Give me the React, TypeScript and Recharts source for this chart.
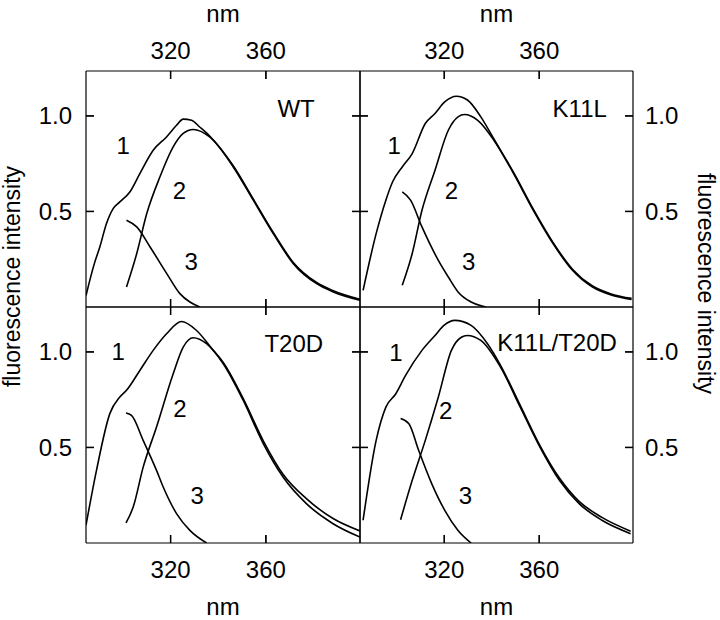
import React from 'react';
import { LineChart, Line, XAxis, YAxis, ReferenceDot, ReferenceLine } from 'recharts';

type Pt = { x: number; y: number };
const toPts = (a: number[][]): Pt[] => a.map(([x, y]) => ({ x, y }));

// axis ticks and labels
const xTicks = [320, 360];
const yTicks = [0.5, 1.0];
const xDomain: [number, number] = [284.5, 399.5];
const yDomain: [number, number] = [0, 1.235];
const xTitle = 'nm';
const yTitle = 'fluorescence intensity';
const panelNames = ['WT', 'K11L', 'T20D', 'K11L/T20D'];
const curveNames = ['1', '2', '3'];

// WT
const wt1 = [[284.5, 0.06], [288, 0.227], [290.3, 0.314], [293.1, 0.437], [295.9, 0.515], [298.7, 0.55], [302.9, 0.602], [307.1, 0.698], [312.7, 0.82], [318.3, 0.89], [322.5, 0.951], [325.3, 0.983], [328.8, 0.977], [332.2, 0.942], [336.4, 0.895], [346.3, 0.739], [354.7, 0.565], [363.1, 0.39], [371.5, 0.233], [381.3, 0.128], [388.3, 0.085], [399.5, 0.04]];
const wt2 = [[301.5, 0.105], [305.8, 0.28], [310, 0.489], [315.5, 0.68], [321.1, 0.838], [325.3, 0.908], [329.5, 0.929], [336.4, 0.89], [346.3, 0.733], [354.7, 0.559], [363.1, 0.384], [371.5, 0.227], [381.3, 0.122], [388.3, 0.079], [399.5, 0.035]];
const wt3 = [[301.5, 0.454], [305.8, 0.419], [311.4, 0.314], [318.4, 0.175], [323.9, 0.07], [328.1, 0.026], [332.3, 0]];

// K11L
const k1 = [[285.8, 0.087], [291.3, 0.384], [295.4, 0.559], [298.2, 0.654], [302.3, 0.733], [306.5, 0.803], [312, 0.96], [316.1, 1.013], [320.2, 1.073], [325.1, 1.103], [329.9, 1.082], [335.4, 0.995], [340.9, 0.879], [349.2, 0.704], [357.5, 0.512], [365.8, 0.338], [374, 0.198], [382.3, 0.111], [390.6, 0.067], [398.9, 0.045]];
const k2 = [[302.3, 0.114], [306.5, 0.28], [310.6, 0.506], [316.1, 0.716], [321.7, 0.925], [325.8, 0.995], [328.5, 1.007], [334.1, 0.977], [340.9, 0.873], [349.2, 0.698], [357.5, 0.506], [365.8, 0.332], [374, 0.192], [382.3, 0.105], [390.6, 0.061], [398.9, 0.039]];
const k3 = [[302.3, 0.602], [305.8, 0.559], [310.6, 0.419], [317.5, 0.244], [321.7, 0.157], [325.8, 0.079], [331.3, 0.026], [337.5, 0]];

// T20D
const t1 = [[284.5, 0.093], [288.9, 0.38], [294.5, 0.677], [298.7, 0.764], [301.5, 0.799], [307.1, 0.903], [312.7, 1.008], [318.3, 1.095], [324.6, 1.159], [330.9, 1.112], [337.9, 1.008], [342.1, 0.945], [350.5, 0.755], [358.9, 0.535], [367.2, 0.36], [377, 0.232], [388.2, 0.128], [399.5, 0.063]];
const t2 = [[301.3, 0.105], [304.3, 0.188], [308.5, 0.397], [314.1, 0.607], [321.1, 0.886], [325.3, 1.025], [329.5, 1.074], [335.1, 1.043], [342.1, 0.938], [350.5, 0.746], [358.9, 0.52], [367.2, 0.345], [377, 0.206], [388.2, 0.101], [399.5, 0.031]];
const t3 = [[301.3, 0.68], [303.6, 0.668], [308.5, 0.537], [314.1, 0.38], [316.9, 0.293], [322.5, 0.154], [328.1, 0.066], [335.1, 0]];

// K11L/T20D
const kt1 = [[285.8, 0.119], [291.3, 0.537], [295.4, 0.711], [299.6, 0.781], [303.7, 0.877], [310.6, 1.008], [316.1, 1.086], [320, 1.14], [324.4, 1.165], [331.3, 1.139], [338.2, 1.043], [343.7, 0.93], [352, 0.72], [360.3, 0.51], [368.5, 0.34], [376.8, 0.218], [386.4, 0.134], [398.5, 0.062]];
const kt2 = [[301.6, 0.122], [306.5, 0.328], [312, 0.537], [317.5, 0.764], [323, 1.008], [327.2, 1.077], [329.6, 1.086], [335.4, 1.06], [343.7, 0.92], [352, 0.711], [360.3, 0.502], [368.5, 0.328], [376.8, 0.206], [386.4, 0.119], [398.5, 0.049]];
const kt3 = [[301.6, 0.651], [305.1, 0.624], [309.2, 0.485], [314.7, 0.311], [320.2, 0.171], [325.8, 0.066], [331.3, 0]];

// annotation anchors (data units)
const wtMarks = [[300.1, 0.847], [323.7, 0.61], [328.6, 0.236]];
const kMarks = [[298.9, 0.847], [323, 0.611], [330.3, 0.236]];
const tMarks = [[298, 1.0], [323.9, 0.703], [331.2, 0.249]];
const ktMarks = [[299.6, 0.999], [320.6, 0.694], [328.9, 0.249]];
const nameAnchors = [[380.5, 1.038], [388.5, 1.039], [384, 1.043], [392.7, 1.051]];

const FONT = '"Liberation Sans", Arial, Helvetica, sans-serif';
const FS = 24;
const TICK = 8;
// inward tick length expressed in data units of each axis (8 px)
const TICK_NM = 3.36;
const TICK_Y = 0.042;

// (x, y) handed to the tick is the inner end of the tick mark (tickSize is negative)
function AxisTick(props: any) {
  const { x, y, payload, side, show } = props;
  if (!show) return <g />;
  const v = payload.value;
  const lab = side === 'left' || side === 'right' ? Number(v).toFixed(1) : String(v);
  const tp = { fontFamily: FONT, fontSize: FS, fill: '#000' };
  if (side === 'top') return <text x={x} y={y - TICK - 12} textAnchor="middle" {...tp}>{lab}</text>;
  if (side === 'bottom') return <text x={x} y={y + TICK + 35} textAnchor="middle" {...tp}>{lab}</text>;
  if (side === 'left') return <text x={x - TICK - 14} y={y + 8.5} textAnchor="end" {...tp}>{lab}</text>;
  return <text x={x + TICK + 12} y={y + 8.5} textAnchor="start" {...tp}>{lab}</text>;
}

const markShape = (text: string, anchor: string) => (p: any) => (
  <text x={p.cx} y={p.cy} textAnchor={anchor} dominantBaseline="central" fontFamily={FONT} fontSize={FS} fill="#000">{text}</text>
);

const TFS = 23;
const leftTitle = (p: any) => {
  const vb = p.viewBox || { x: 85, y: 71, height: 236 };
  const cx = vb.x - 65;
  const cy = vb.y + vb.height - 30.5;
  return (
    <text x={cx} y={cy} transform={`rotate(-90 ${cx} ${cy})`} textAnchor="middle" fontFamily={FONT} fontSize={TFS} fill="#000">{yTitle}</text>
  );
};
const rightTitle = (p: any) => {
  const vb = p.viewBox || { x: 633, y: 71, height: 236 };
  const cx = vb.x + 65;
  const cy = vb.y + vb.height - 23.5;
  return (
    <text x={cx} y={cy} transform={`rotate(90 ${cx} ${cy})`} textAnchor="middle" fontFamily={FONT} fontSize={TFS} fill="#000">{yTitle}</text>
  );
};

type PanelCfg = {
  curves: number[][][];
  marks: number[][];
  name: string;
  nameAt: number[];
  margin: { top: number; left: number; right: number; bottom: number };
  xSide: 'top' | 'bottom';
  ySide: 'left' | 'right';
};

// margins exclude the 1px that each axis occupies
const panels: PanelCfg[] = [
  { curves: [wt1, wt2, wt3], marks: wtMarks, name: panelNames[0], nameAt: nameAnchors[0], margin: { top: 70, left: 85, right: 359, bottom: 312 }, xSide: 'top', ySide: 'left' },
  { curves: [k1, k2, k3], marks: kMarks, name: panelNames[1], nameAt: nameAnchors[1], margin: { top: 70, left: 359, right: 86, bottom: 312 }, xSide: 'top', ySide: 'right' },
  { curves: [t1, t2, t3], marks: tMarks, name: panelNames[2], nameAt: nameAnchors[2], margin: { top: 306, left: 85, right: 359, bottom: 76 }, xSide: 'bottom', ySide: 'left' },
  { curves: [kt1, kt2, kt3], marks: ktMarks, name: panelNames[3], nameAt: nameAnchors[3], margin: { top: 306, left: 359, right: 86, bottom: 76 }, xSide: 'bottom', ySide: 'right' },
];

function Panel({ cfg, idx }: { cfg: PanelCfg; idx: number }) {
  const axisLine = { stroke: '#000', strokeWidth: 1.2 };
  const tickLine = { stroke: '#000', strokeWidth: 1.3 };
  const xLabel = cfg.xSide === 'top'
    ? { value: xTitle, position: 'top' as const, offset: 48, fontSize: FS, fontFamily: FONT, fill: '#000' }
    : { value: xTitle, position: 'bottom' as const, offset: 54, fontSize: FS, fontFamily: FONT, fill: '#000' };
  let yLabelLeft: any = undefined;
  let yLabelRight: any = undefined;
  if (idx === 0) yLabelLeft = { content: leftTitle };
  if (idx === 1) yLabelRight = { content: rightTitle };
  const [x0, x1] = xDomain;
  const [y0, y1] = yDomain;
  const tickSegs: { x: number; y: number }[][] = [];
  xTicks.forEach((t) => {
    tickSegs.push([{ x: t, y: y0 }, { x: t, y: y0 + TICK_Y }]);
    tickSegs.push([{ x: t, y: y1 }, { x: t, y: y1 - TICK_Y }]);
  });
  yTicks.forEach((t) => {
    tickSegs.push([{ x: x0, y: t }, { x: x0 + TICK_NM, y: t }]);
    tickSegs.push([{ x: x1, y: t }, { x: x1 - TICK_NM, y: t }]);
  });
  return (
    <div style={{ position: 'absolute', left: 0, top: 0 }}>
      <LineChart width={720} height={620} margin={cfg.margin}>
        <XAxis xAxisId="b" orientation="bottom" type="number" dataKey="x" domain={xDomain} ticks={xTicks} allowDataOverflow
          height={1} tickSize={-TICK} tickMargin={0} tickLine={tickLine} axisLine={axisLine}
          tick={<AxisTick side="bottom" show={cfg.xSide === 'bottom'} />}
          label={cfg.xSide === 'bottom' ? xLabel : undefined} />
        <XAxis xAxisId="t" orientation="top" type="number" dataKey="x" domain={xDomain} ticks={xTicks} allowDataOverflow
          height={1} tickSize={-TICK} tickMargin={0} tickLine={tickLine} axisLine={axisLine}
          tick={<AxisTick side="top" show={cfg.xSide === 'top'} />}
          label={cfg.xSide === 'top' ? xLabel : undefined} />
        <YAxis yAxisId="l" orientation="left" type="number" domain={yDomain} ticks={yTicks} allowDataOverflow
          width={1} tickSize={-TICK} tickMargin={0} tickLine={tickLine} axisLine={axisLine}
          tick={<AxisTick side="left" show={cfg.ySide === 'left'} />} label={yLabelLeft} />
        <YAxis yAxisId="r" orientation="right" type="number" domain={yDomain} ticks={yTicks} allowDataOverflow
          width={1} tickSize={-TICK} tickMargin={0} tickLine={tickLine} axisLine={axisLine}
          tick={<AxisTick side="right" show={cfg.ySide === 'right'} />} label={yLabelRight} />
        {tickSegs.map((s, i) => (
          <ReferenceLine key={`tk${i}`} segment={s} xAxisId="b" yAxisId="l" stroke="#000" strokeWidth={1.3} ifOverflow="visible" />
        ))}
        {cfg.curves.map((c, i) => (
          <Line key={`c${i}`} data={toPts(c)} dataKey="y" xAxisId="b" yAxisId="l" type="monotone"
            stroke="#000" strokeWidth={1.6} dot={false} activeDot={false} isAnimationActive={false} />
        ))}
        <Line data={toPts(cfg.curves[1])} dataKey="y" xAxisId="t" yAxisId="r" type="monotone"
          stroke="none" dot={false} activeDot={false} isAnimationActive={false} />
        {cfg.marks.map((m, i) => (
          <ReferenceDot key={`m${i}`} x={m[0]} y={m[1]} xAxisId="b" yAxisId="l" r={1}
            shape={markShape(curveNames[i], 'middle')} />
        ))}
        <ReferenceDot x={cfg.nameAt[0]} y={cfg.nameAt[1]} xAxisId="b" yAxisId="l" r={1}
          shape={markShape(cfg.name, 'end')} />
      </LineChart>
    </div>
  );
}

export default function App() {
  return (
    <div style={{ position: 'absolute', left: 0, top: 0, width: 720, height: 620, background: '#fff', fontFamily: FONT }}>
      {panels.map((p, i) => (
        <Panel key={i} cfg={p} idx={i} />
      ))}
    </div>
  );
}
